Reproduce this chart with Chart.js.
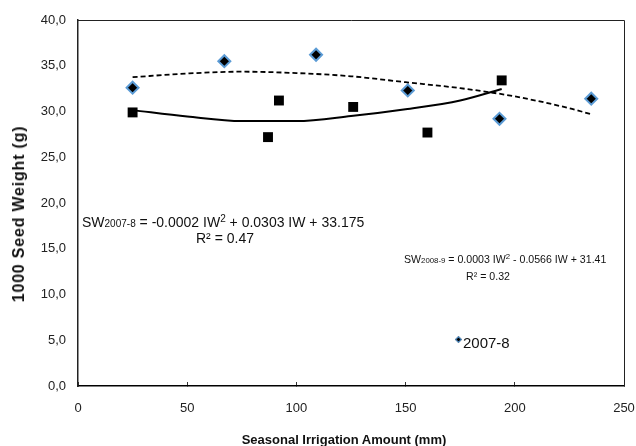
<!DOCTYPE html>
<html>
<head>
<meta charset="utf-8">
<script src="https://cdn.jsdelivr.net/npm/chart.js@4/dist/chart.umd.min.js"></script>
<style>
  html, body { margin: 0; padding: 0; background: #fff; }
  #wrap { position: relative; width: 636px; height: 446px; overflow: hidden; }
  #c { position: absolute; left: 0; top: 0; }
  .ann { position: absolute; font-family: "Liberation Sans", Arial, sans-serif; color: #111; white-space: nowrap; }
  .ann sub { vertical-align: baseline; position: relative; top: 0px; }
  .ann sup { vertical-align: baseline; position: relative; }
  .e1 { font-size: 14px; line-height: 16px; }
  .e1 sub, .e1 sup { font-size: 10px; }
  .e1 sup { top: -5px; }
  .e2 { font-size: 10.6px; line-height: 13px; }
  .e2 sub, .e2 sup { font-size: 7.8px; }
  .e2 sup { top: -4px; }
  .ttl { font-weight: bold; color: #111; }
  #legMark { position: absolute; width: 3px; height: 3px; background: #000; border: 1px solid #5b9bd5; transform: rotate(45deg); }
</style>
</head>
<body>
<div id="wrap">
  <canvas id="c" width="636" height="446"></canvas>
  <div class="ann e1" style="left:82px; top:214px;">SW<sub>2007-8</sub> = -0.0002 IW<sup>2</sup> + 0.0303 IW + 33.175</div>
  <div class="ann e1" style="left:225px; top:230px; transform:translateX(-50%);">R² = 0.47</div>
  <div class="ann e2" style="left:404px; top:253px;">SW<sub>2008-9</sub> = 0.0003 IW<sup>2</sup> - 0.0566 IW + 31.41</div>
  <div class="ann e2" style="left:488px; top:269.5px; transform:translateX(-50%);">R² = 0.32</div>
  <div id="legMark" style="left:456.3px; top:336.5px;"></div>
  <div class="ann" style="left:463px; top:334px; font-size:15px; line-height:17px;">2007-8</div>
  <div class="ann ttl" style="left:344px; top:431.5px; font-size:13px; line-height:16px; transform:translateX(-50%);">Seasonal Irrigation Amount (mm)</div>
  <div class="ann ttl" style="left:18.5px; top:213.5px; font-size:16px; letter-spacing:0.8px; line-height:20px; transform:translate(-50%,-50%) rotate(-90deg);">1000 Seed Weight (g)</div>
</div>
<script>
// Observed data
const irr2007 = [25, 67, 109, 151, 193, 235];
const sw2007  = [32.6, 35.5, 36.2, 32.3, 29.2, 31.4];
const irr2008 = [25, 87, 92, 126, 160, 194];
const sw2008  = [29.9, 27.2, 31.2, 30.5, 27.7, 33.4];

// Trend curves
const trendX2007 = [25, 50, 75, 100, 125, 150, 175, 200, 225, 235];
const trendY2007 = [33.75, 34.15, 34.35, 34.2, 33.85, 33.2, 32.55, 31.65, 30.35, 29.7];
const trendX2008 = [25, 50, 75, 100, 125, 150, 175, 194];
const trendY2008 = [30.15, 29.45, 28.95, 28.95, 29.5, 30.25, 31.2, 32.45];

// Axis ticks
const xTicks = [0, 50, 100, 150, 200, 250];
const yTicks = [0, 5, 10, 15, 20, 25, 30, 35, 40];

const pts = (xs, ys) => xs.map((x, i) => ({x: x, y: ys[i]}));

const boxPlugin = {
  id: 'box',
  afterDraw(chart) {
    const a = chart.chartArea, ctx = chart.ctx;
    ctx.save();
    ctx.strokeStyle = '#222';
    ctx.lineWidth = 1;
    ctx.beginPath();
    ctx.moveTo(a.left, a.top + 0.5);
    ctx.lineTo(a.right + 0.5, a.top + 0.5);
    ctx.lineTo(a.right + 0.5, a.bottom);
    ctx.stroke();
    ctx.restore();
  }
};

const FONT = "'Liberation Sans', Arial, sans-serif";

new Chart(document.getElementById('c'), {
  type: 'scatter',
  data: {
    datasets: [
      {
        label: '2007-8 trend',
        data: pts(trendX2007, trendY2007),
        showLine: true,
        borderColor: '#000',
        borderWidth: 1.8,
        borderDash: [5, 3],
        pointRadius: 0,
        cubicInterpolationMode: 'monotone',
        fill: false
      },
      {
        label: '2008-9 trend',
        data: pts(trendX2008, trendY2008),
        showLine: true,
        borderColor: '#000',
        borderWidth: 2,
        pointRadius: 0,
        cubicInterpolationMode: 'monotone',
        fill: false
      },
      {
        label: '2007-8',
        data: pts(irr2007, sw2007),
        pointStyle: 'rectRot',
        pointRadius: 6,
        pointBackgroundColor: '#000',
        pointBorderColor: '#5b9bd5',
        pointBorderWidth: 2,
        showLine: false
      },
      {
        label: '2008-9',
        data: pts(irr2008, sw2008),
        pointStyle: 'rect',
        pointRadius: 7,
        pointBackgroundColor: '#000',
        pointBorderColor: '#000',
        pointBorderWidth: 0,
        showLine: false
      }
    ]
  },
  options: {
    responsive: false,
    animation: false,
    layout: { padding: { left: 0, top: 20, right: 12, bottom: 0 } },
    plugins: { legend: { display: false }, tooltip: { enabled: false } },
    scales: {
      x: {
        type: 'linear',
        min: 0, max: 250,
        afterBuildTicks(s) { s.ticks = xTicks.map(v => ({value: v})); },
        afterFit(s) { s.height = 60; s.paddingLeft = 0; s.paddingRight = 0; },
        grid: { drawOnChartArea: false, drawTicks: true, tickLength: -4, color: '#333', lineWidth: 1 },
        border: { color: '#000', width: 1.5 },
        ticks: { color: '#222', font: { family: FONT, size: 13 }, padding: 19, maxRotation: 0 },
        title: { display: false }
      },
      y: {
        min: 0, max: 40,
        afterBuildTicks(s) { s.ticks = yTicks.map(v => ({value: v})); },
        afterFit(s) { s.width = 78; },
        grid: { drawOnChartArea: false, drawTicks: false },
        border: { color: '#222', width: 1.5 },
        ticks: { color: '#222', font: { family: FONT, size: 13 }, padding: 12,
                 callback: v => v.toFixed(1).replace('.', ',') },
        title: { display: false }
      }
    }
  },
  plugins: [boxPlugin]
});
</script>
</body>
</html>
